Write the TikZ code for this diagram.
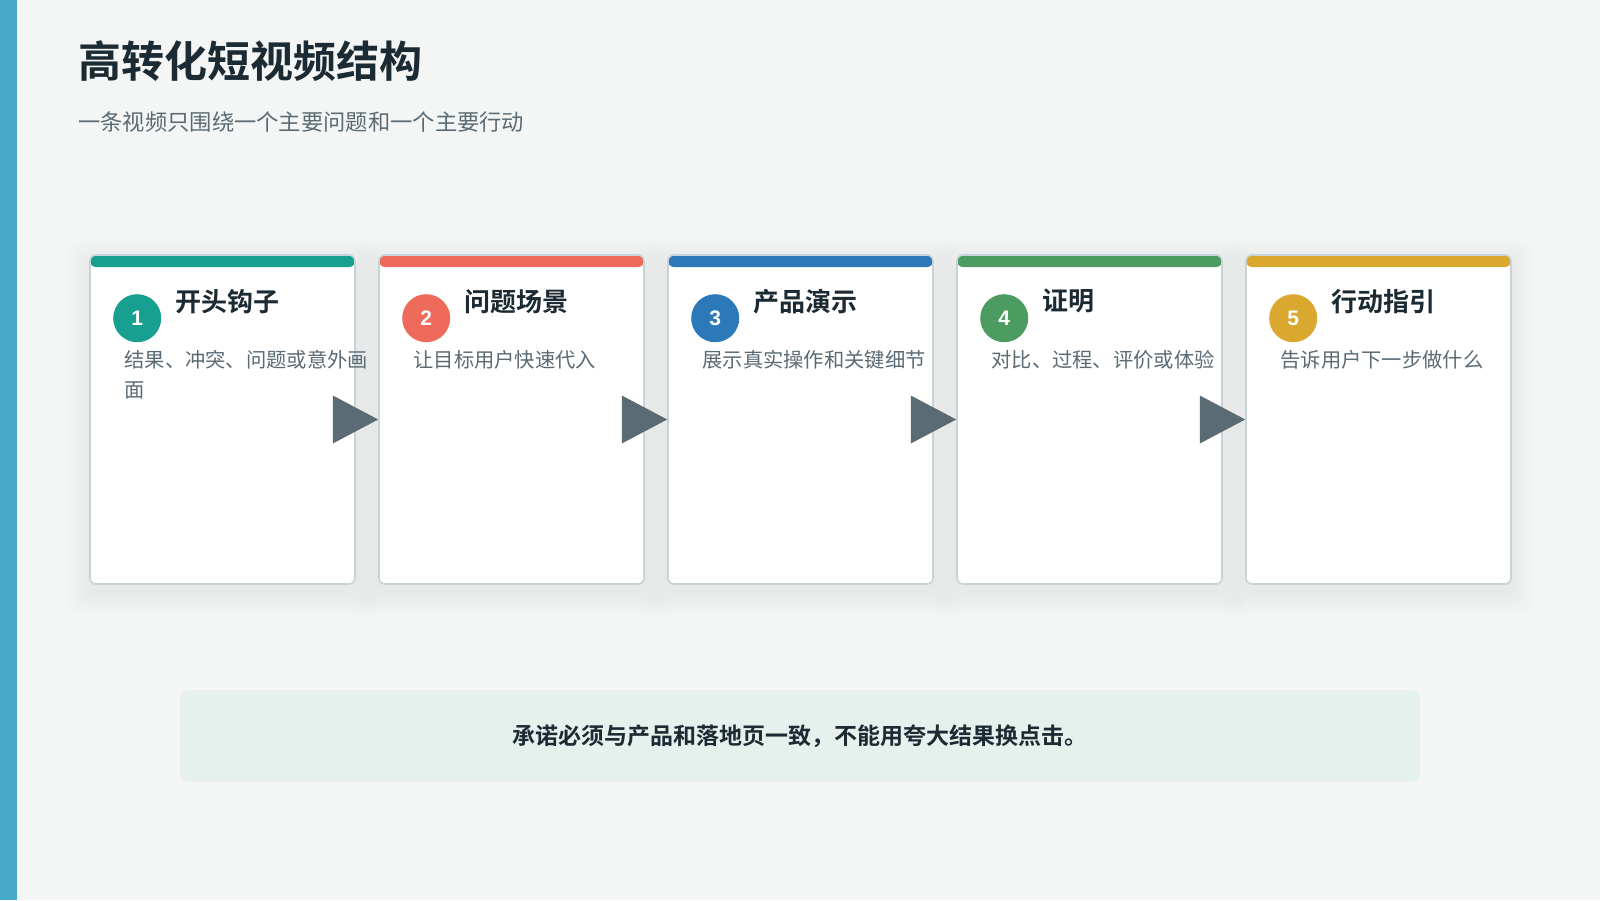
\documentclass[tikz,border=0pt]{standalone}
\usepackage{fontspec}
\setmainfont{Noto Sans CJK SC}[BoldFont={Noto Sans CJK SC Bold}]
\newfontfamily\digitfont{Liberation Sans}
\usetikzlibrary{calc}
\definecolor{bgc}{HTML}{F4F6F5}
\definecolor{sidebar}{HTML}{47A8C8}
\definecolor{ink}{HTML}{1C2A33}
\definecolor{muted}{HTML}{5B6B75}
\definecolor{cardline}{HTML}{C8D3D8}
\definecolor{arrowc}{HTML}{5A6B73}
\definecolor{cteal}{HTML}{179F8F}
\definecolor{ccoral}{HTML}{EE6A5A}
\definecolor{cblue}{HTML}{2B79B9}
\definecolor{cgreen}{HTML}{4C9C62}
\definecolor{cgold}{HTML}{DBA82F}
\definecolor{notefill}{HTML}{E6F0EC}
\definecolor{shadowc}{HTML}{1C2A33}
\tikzset{
  cardbox/.style={draw=cardline, line width=1.6pt, fill=white, rounded corners=6pt,
    minimum width=265pt, minimum height=329pt, inner sep=0pt,
    path picture={\fill[#1] ([yshift=2pt]path picture bounding box.north west) rectangle ([yshift=-12pt]path picture bounding box.north east);}},
  numcirc/.style={circle, fill=#1, minimum size=48pt, inner sep=0pt, text=white,
    font=\digitfont\bfseries\fontsize{21pt}{21pt}\selectfont},
  ctitle/.style={anchor=west, inner sep=0pt, text=ink, font=\bfseries\fontsize{26pt}{30pt}\selectfont},
  cdesc/.style={anchor=north west, inner sep=0pt, text=muted, align=left, font=\fontsize{20.3pt}{30pt}\selectfont},
  arrowtri/.style={fill=arrowc},
  softshadow/.style={fill=shadowc, fill opacity=0.0045, rounded corners=14pt},
}
\begin{document}
\begin{tikzpicture}[x=1pt,y=-1pt]
\useasboundingbox (0,0) rectangle (1600,900);
\fill[bgc] (0,0) rectangle (1600,900);
\fill[sidebar] (0,0) rectangle (17,900);
\node[anchor=west, inner sep=0pt, text=ink, font=\bfseries\fontsize{43pt}{48pt}\selectfont] (title) at (78,61) {高转化短视频结构};
\node[anchor=west, inner sep=0pt, text=muted, font=\fontsize{22.3pt}{26pt}\selectfont] (subtitle) at (78,122) {一条视频只围绕一个主要问题和一个主要行动};

% soft shadows behind the cards
\foreach \cx in {222.5,511.5,800.5,1089.5,1378.5}{
  \foreach \k in {2,4,...,24}{
    \fill[softshadow] (\cx-132.5-\k,255-\k+8) rectangle (\cx+132.5+\k,584+\k+8);
  }
}

\node[cardbox=cteal]  (c1) at (222.5,419.5) {};
\node[cardbox=ccoral] (c2) at (511.5,419.5) {};
\node[cardbox=cblue]  (c3) at (800.5,419.5) {};
\node[cardbox=cgreen] (c4) at (1089.5,419.5) {};
\node[cardbox=cgold]  (c5) at (1378.5,419.5) {};

\node[numcirc=cteal]  (n1) at ($(c1.north west)+(48,64)$) {1};
\node[numcirc=ccoral] (n2) at ($(c2.north west)+(48,64)$) {2};
\node[numcirc=cblue]  (n3) at ($(c3.north west)+(48,64)$) {3};
\node[numcirc=cgreen] (n4) at ($(c4.north west)+(48,64)$) {4};
\node[numcirc=cgold]  (n5) at ($(c5.north west)+(48,64)$) {5};

\node[ctitle] (t1) at ($(c1.north west)+(86,47)$) {开头钩子};
\node[ctitle] (t2) at ($(c2.north west)+(86,47)$) {问题场景};
\node[ctitle] (t3) at ($(c3.north west)+(86,47)$) {产品演示};
\node[ctitle] (t4) at ($(c4.north west)+(86,47)$) {证明};
\node[ctitle] (t5) at ($(c5.north west)+(86,47)$) {行动指引};

\node[cdesc] (d1) at ($(c1.north west)+(35,96)$) {结果、冲突、问题或意外画\\面};
\node[cdesc] (d2) at ($(c2.north west)+(35,96)$) {让目标用户快速代入};
\node[cdesc] (d3) at ($(c3.north west)+(35,96)$) {展示真实操作和关键细节};
\node[cdesc] (d4) at ($(c4.north west)+(35,96)$) {对比、过程、评价或体验};
\node[cdesc] (d5) at ($(c5.north west)+(35,96)$) {告诉用户下一步做什么};

\fill[arrowtri] ($(c1.east)+(-23,-24)$) -- (c2.west) -- ($(c1.east)+(-23,24)$) -- cycle;
\fill[arrowtri] ($(c2.east)+(-23,-24)$) -- (c3.west) -- ($(c2.east)+(-23,24)$) -- cycle;
\fill[arrowtri] ($(c3.east)+(-23,-24)$) -- (c4.west) -- ($(c3.east)+(-23,24)$) -- cycle;
\fill[arrowtri] ($(c4.east)+(-23,-24)$) -- (c5.west) -- ($(c4.east)+(-23,24)$) -- cycle;

\node[fill=notefill, rounded corners=8pt, minimum width=1240pt, minimum height=92pt, inner sep=0pt,
  text=ink, font=\bfseries\fontsize{23pt}{26pt}\selectfont] (note) at (800,736) {承诺必须与产品和落地页一致，不能用夸大结果换点击。};
\end{tikzpicture}
\end{document}
